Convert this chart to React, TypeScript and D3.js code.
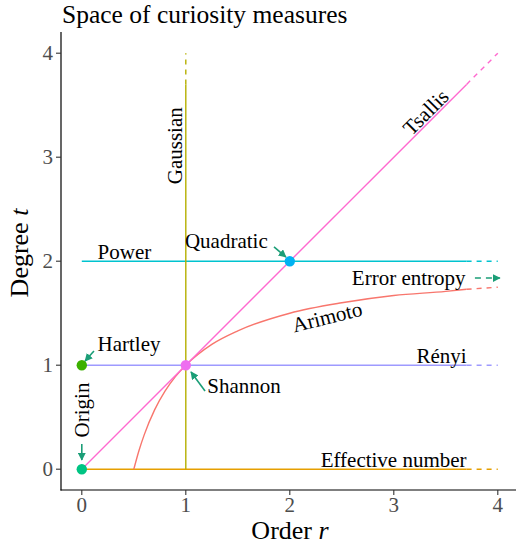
import React from "react";
import * as d3 from "d3";

const W = 516;
const H = 546;
const FONT = "'Liberation Serif', 'Times New Roman', serif";

const xTicks = [0, 1, 2, 3, 4];
const yTicks = [0, 1, 2, 3, 4];

// horizontal families: degree t
const hNames = ["Effective number", "Rényi", "Power"];
const hLevels = [0, 1, 2];
const hColors = ["#E69F00", "#9E9AFF", "#00C3CF"];

// Gaussian: vertical at order r = 1
const gaussR = 1;
const gaussColor = "#B5B000";
// Tsallis: t = r
const tsallisColor = "#FF69CF";
// Arimoto curve samples
const arimotoR = [0.5, 0.55, 0.6, 0.7, 0.8, 0.9, 1, 1.25, 1.5, 2, 2.5, 3, 3.5, 3.7, 4];
const arimotoT = [0, 0.18, 0.33, 0.57, 0.75, 0.89, 1, 1.2, 1.33, 1.5, 1.6, 1.67, 1.71, 1.73, 1.75];
const arimotoColor = "#F8766D";

const solidEnd = 3.7;
const lineEnd = 4;

// points
const pointNames = ["Origin", "Hartley", "Shannon", "Quadratic"];
const pointR = [0, 0, 1, 2];
const pointT = [0, 1, 1, 2];
const pointColors = ["#00C483", "#3CB000", "#EE6FF0", "#00B2F2"];

// labels
const labelText = ["Power", "Hartley", "Quadratic", "Shannon", "Rényi", "Effective number", "Error entropy", "Arimoto", "Tsallis", "Gaussian", "Origin"];
const labelR = [0.41, 0.454, 1.39, 1.56, 3.7, 3.7, 3.69, 2.36, 3.31, 0.896, 0.0];
const labelT = [2.02, 1.137, 2.127, 0.733, 1.02, 0.02, 1.77, 1.46, 3.43, 3.11, 0.569];
const labelAnchor = ["middle", "middle", "middle", "middle", "end", "end", "end", "middle", "middle", "middle", "middle"];
const labelAngle = [0, 0, 0, 0, 0, 0, 0, -14, -45, -90, -90];
const labelCentral = [false, false, false, false, false, false, false, true, true, true, true];

// annotation arrows
const arrowR1 = [0.117, 1.185, 1.848, 0.0, 3.78];
const arrowT1 = [1.137, 0.752, 2.137, 0.242, 1.838];
const arrowR2 = [0.031, 1.05, 1.963, 0.0, 4.02];
const arrowT2 = [1.04, 0.935, 2.04, 0.088, 1.838];
const arrowDashed = [false, false, false, false, true];
const arrowColor = "#1B9E77";

export default function App() {
  const x = d3.scaleLinear().domain([-0.2, 4.2]).range([61, 61 + 4.4 * 104]);
  const y = d3.scaleLinear().domain([-0.2, 4.2]).range([490, 490 - 4.4 * 104]);
  const lw = 1.4;
  const dash = "5,5";

  const arimotoPts = arimotoR.map((r, i) => [r, arimotoT[i]] as [number, number]);
  const lineGen = d3
    .line<[number, number]>()
    .x((d) => x(d[0]))
    .y((d) => y(d[1]))
    .curve(d3.curveMonotoneX);
  const ariSolid = arimotoPts.filter((d) => d[0] <= solidEnd);
  const ariDash = arimotoPts.filter((d) => d[0] >= solidEnd);

  return (
    <svg width={W} height={H} style={{ position: "absolute", left: 0, top: 0, background: "#fff" }} fontFamily={FONT}>
      <defs>
        <marker id="ah" viewBox="0 0 10 10" refX="9" refY="5" markerWidth="5" markerHeight="5" orient="auto">
          <path d="M0,0 L10,5 L0,10 z" fill={arrowColor} />
        </marker>
      </defs>
      {/* title */}
      <text x={62} y={23} fontSize={25.5} fill="#000">Space of curiosity measures</text>

      {/* horizontal lines */}
      {hLevels.map((t, i) => (
        <g key={hNames[i]}>
          <line x1={x(0)} x2={x(solidEnd)} y1={y(t)} y2={y(t)} stroke={hColors[i]} strokeWidth={lw} />
          <line x1={x(solidEnd)} x2={x(lineEnd)} y1={y(t)} y2={y(t)} stroke={hColors[i]} strokeWidth={lw} strokeDasharray={dash} />
        </g>
      ))}
      {/* Gaussian */}
      <line x1={x(gaussR)} x2={x(gaussR)} y1={y(0)} y2={y(solidEnd)} stroke={gaussColor} strokeWidth={lw} />
      <line x1={x(gaussR)} x2={x(gaussR)} y1={y(solidEnd)} y2={y(lineEnd)} stroke={gaussColor} strokeWidth={lw} strokeDasharray={dash} />
      {/* Arimoto */}
      <path d={lineGen(ariSolid) || ""} fill="none" stroke={arimotoColor} strokeWidth={lw} />
      <path d={lineGen(ariDash) || ""} fill="none" stroke={arimotoColor} strokeWidth={lw} strokeDasharray={dash} />
      {/* Tsallis */}
      <line x1={x(0)} x2={x(solidEnd)} y1={y(0)} y2={y(solidEnd)} stroke={tsallisColor} strokeWidth={lw} />
      <line x1={x(solidEnd)} x2={x(lineEnd)} y1={y(solidEnd)} y2={y(lineEnd)} stroke={tsallisColor} strokeWidth={lw} strokeDasharray={dash} />

      {/* arrows */}
      {arrowR1.map((r, i) => (
        <line
          key={"a" + i}
          x1={x(r)}
          y1={y(arrowT1[i])}
          x2={x(arrowR2[i])}
          y2={y(arrowT2[i])}
          stroke={arrowColor}
          strokeWidth={1.6}
          strokeDasharray={arrowDashed[i] ? "6,5" : undefined}
          markerEnd="url(#ah)"
        />
      ))}

      {/* points */}
      {pointNames.map((n, i) => (
        <circle key={n} cx={x(pointR[i])} cy={y(pointT[i])} r={5.2} fill={pointColors[i]} />
      ))}

      {/* labels */}
      {labelText.map((s, i) => {
        const px = x(labelR[i]);
        const py = y(labelT[i]);
        return (
          <text
            key={s}
            x={px}
            y={py}
            fontSize={21}
            fill="#000"
            textAnchor={labelAnchor[i]}
            dy={labelCentral[i] ? "0.32em" : undefined}
            transform={labelAngle[i] ? `rotate(${labelAngle[i]},${px},${py})` : undefined}
          >
            {s}
          </text>
        );
      })}

      {/* axes */}
      <line x1={61} x2={61} y1={32} y2={490.5} stroke="#000" strokeWidth={1.2} />
      <line x1={60.5} x2={W} y1={490} y2={490} stroke="#000" strokeWidth={1.2} />
      {xTicks.map((v) => (
        <g key={"x" + v}>
          <line x1={x(v)} x2={x(v)} y1={490} y2={495} stroke="#333" strokeWidth={1.1} />
          <text x={x(v)} y={512} fontSize={21} fill="#4D4D4D" textAnchor="middle">{v}</text>
        </g>
      ))}
      {yTicks.map((v) => (
        <g key={"y" + v}>
          <line x1={56} x2={61} y1={y(v)} y2={y(v)} stroke="#333" strokeWidth={1.1} />
          <text x={53} y={y(v)} dy="0.34em" fontSize={21} fill="#4D4D4D" textAnchor="end">{v}</text>
        </g>
      ))}
      <text x={290} y={539} fontSize={26} textAnchor="middle" fill="#000">
        Order <tspan fontStyle="italic">r</tspan>
      </text>
      <text x={28} y={253} fontSize={26} textAnchor="middle" fill="#000" transform="rotate(-90,28,253)">
        Degree <tspan fontStyle="italic">t</tspan>
      </text>
    </svg>
  );
}
